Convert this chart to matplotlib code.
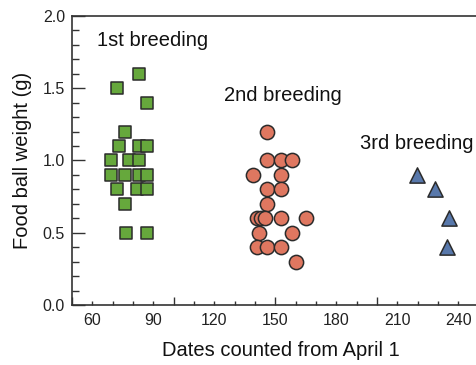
import matplotlib
matplotlib.use("Agg")
import matplotlib.pyplot as plt
from matplotlib.ticker import MultipleLocator, FuncFormatter

# dates (days from April 1) and food ball weights (g) for each breeding
first_dates = [83, 72, 87, 76, 73, 83, 87, 69, 78, 83, 69, 76, 83, 87, 72, 82, 87, 76, 76.5, 87]
first_weights = [1.6, 1.5, 1.4, 1.2, 1.1, 1.1, 1.1, 1.0, 1.0, 1.0, 0.9, 0.9, 0.9, 0.9, 0.8, 0.8, 0.8, 0.7, 0.5, 0.5]

second_dates = [146, 146, 153, 158, 139, 153, 146, 153, 146, 141, 143, 145, 153, 165, 142, 158, 141, 146, 153, 160]
second_weights = [1.2, 1.0, 1.0, 1.0, 0.9, 0.9, 0.8, 0.8, 0.7, 0.6, 0.6, 0.6, 0.6, 0.6, 0.5, 0.5, 0.4, 0.4, 0.4, 0.3]

third_dates = [219.5, 228.5, 235.5, 234.5]
third_weights = [0.9, 0.8, 0.6, 0.4]

xtick_labels = [60, 90, 120, 150, 180, 210, 240]

plt.rcParams["font.family"] = ["Liberation Sans", "DejaVu Sans"]

fig = plt.figure(figsize=(4.76, 3.65), dpi=100)
ax = fig.add_axes([0.1513, 0.1644, 0.8757, 0.7918])

edge = "#2b2b2b"
ax.scatter(first_dates, first_weights, marker="s", s=75, color="#66a83c",
           edgecolors=edge, linewidths=1.1, zorder=3)
ax.scatter(second_dates, second_weights, marker="o", s=105, color="#df7760",
           edgecolors=edge, linewidths=1.1, zorder=3)
ax.scatter(third_dates, third_weights, marker="^", s=120, color="#5878ab",
           edgecolors=edge, linewidths=1.1, zorder=3)

# group labels
ax.text(62.3, 1.83, "1st breeding", fontsize=14.5, va="center", color="#111111")
ax.text(124.8, 1.45, "2nd breeding", fontsize=14.5, va="center", color="#111111")
ax.text(191.8, 1.12, "3rd breeding", fontsize=14.5, va="center", color="#111111")

ax.set_xlim(50, 255)
ax.set_ylim(0, 2.0)


def every_thirty(v, pos):
    # only 60, 90, ... get a label
    iv = int(round(v))
    return str(iv) if iv in xtick_labels else ""


ax.xaxis.set_major_locator(MultipleLocator(50))
ax.xaxis.set_minor_locator(MultipleLocator(10))
ax.xaxis.set_major_formatter(FuncFormatter(every_thirty))
ax.xaxis.set_minor_formatter(FuncFormatter(every_thirty))
ax.yaxis.set_major_locator(MultipleLocator(0.5))
ax.yaxis.set_minor_locator(MultipleLocator(0.1))
ax.yaxis.set_major_formatter(FuncFormatter(lambda v, p: "%.1f" % v))

ax.tick_params(axis="x", which="major", direction="in", length=5.5, width=1, colors="#333333",
               labelsize=11.5, labelcolor="#222222", pad=6)
ax.tick_params(axis="x", which="minor", direction="in", length=3, width=1, colors="#333333",
               labelsize=11.5, labelcolor="#222222", pad=6)
ax.tick_params(axis="y", which="major", direction="in", length=9, width=1, colors="#333333",
               labelsize=11.5, labelcolor="#222222", pad=5)
ax.tick_params(axis="y", which="minor", direction="in", length=5, width=1, colors="#333333")

for side in ["left", "bottom", "top"]:
    ax.spines[side].set_color("#333333")
    ax.spines[side].set_linewidth(1.2)
ax.spines["right"].set_visible(False)

ax.set_xlabel("Dates counted from April 1", fontsize=14.5, color="#111111", labelpad=9)
ax.set_ylabel("Food ball weight (g)", fontsize=14.5, color="#111111", labelpad=8)

fig.savefig("out.png", dpi=100, facecolor="white")
